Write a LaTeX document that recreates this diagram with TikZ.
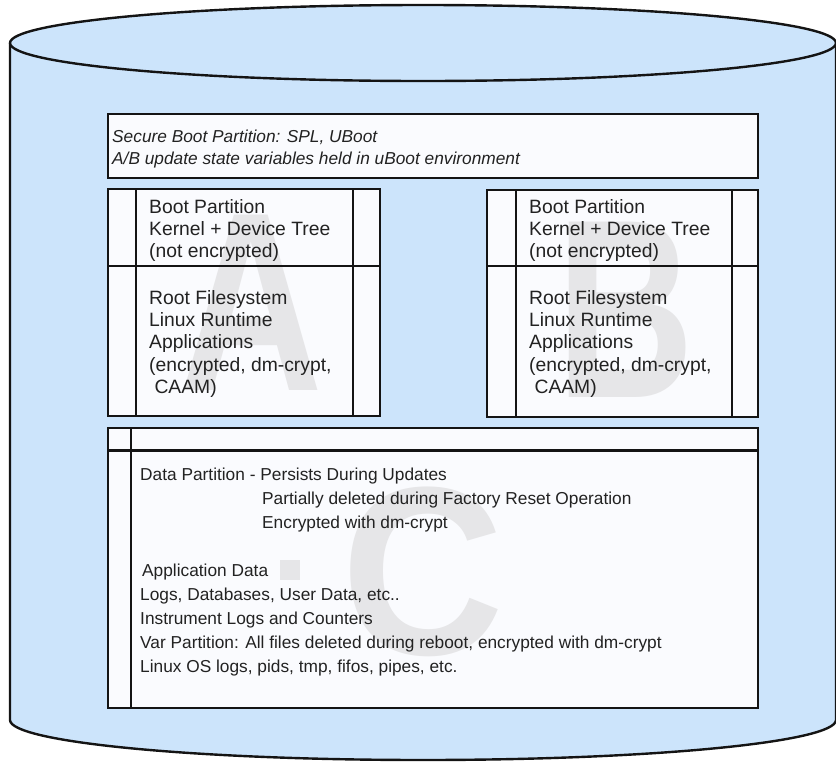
\documentclass[tikz,border=0pt]{standalone}
\usepackage{graphicx}
\usepackage{fontspec}
\setmainfont{Liberation Sans}

\definecolor{disk}{RGB}{204,228,251}
\definecolor{paper}{RGB}{250,251,254}
\definecolor{edge}{RGB}{20,20,20}
\definecolor{ink}{RGB}{34,34,34}
\definecolor{ghost}{RGB}{230,230,232}

\begin{document}
\begin{tikzpicture}[x=1pt,y=-1pt,
  diskline/.style={line width=2.4pt, draw=edge},
  boxline/.style={line width=2.6pt, draw=edge},
  boxfill/.style={fill=paper},
  body/.style={font=\fontsize{19.3}{23}\selectfont, text=ink, anchor=base west, inner sep=0pt},
  note/.style={font=\fontsize{17.3}{21}\selectfont, text=ink, anchor=base west, inner sep=0pt},
  wmark/.style={font=\fontsize{255}{255}\selectfont\bfseries, text=ghost, anchor=base, inner sep=0pt}
]
\useasboundingbox (0,0) rectangle (836,761);

% storage cylinder
\path[fill=disk] (10,43) -- (10,720)
  arc[start angle=180, end angle=0, x radius=413, y radius=40] -- (836,43) -- cycle;
\draw[diskline] (10,43) -- (10,720)
  arc[start angle=180, end angle=0, x radius=413, y radius=40] -- (836,43);
\draw[diskline, fill=disk] (423,43) ellipse [x radius=413, y radius=38];

% partition backgrounds
\fill[boxfill] (108,114) rectangle (758,178);
\fill[boxfill] (108,189) rectangle (380,416);
\fill[boxfill] (487,190) rectangle (758,417);
\fill[boxfill] (108,428) rectangle (758,708);

% large slot letters
\node[wmark] (slotA) at (251,390) {\scalebox{0.78}[1]{A}};
\node[wmark] (slotB) at (626,397) {\scalebox{0.75}[1]{B}};
\node[wmark, font=\fontsize{240}{240}\selectfont\bfseries] (slotC) at (423,654) {\scalebox{0.94}[1]{C}};
\fill[ghost] (280,560) rectangle (300,580);

% partition outlines
\draw[boxline] (108,114) rectangle (758,178);
\draw[boxline] (108,189) rectangle (380,416);
\draw[boxline] (136,189) -- (136,416);
\draw[boxline] (353,189) -- (353,416);
\draw[boxline] (108,266) -- (380,266);
\draw[boxline] (487,190) rectangle (758,417);
\draw[boxline] (516,190) -- (516,417);
\draw[boxline] (732,190) -- (732,417);
\draw[boxline] (487,266) -- (758,266);
\draw[boxline] (108,428) rectangle (758,708);
\draw[boxline] (131,428) -- (131,708);
\draw[boxline, line width=3pt] (108,450) -- (758,450);

% secure boot partition
\node[note, font=\fontsize{17.3}{21}\selectfont\itshape] (sb1) at (112,142) {Secure Boot Partition: SPL, UBoot};
\node[note, font=\fontsize{17.3}{21}\selectfont\itshape] (sb2) at (112,164) {A/B update state variables held in uBoot environment};

% slot A
\foreach \t [count=\i] in {Boot Partition, Kernel + Device Tree, (not encrypted)}
  \node[body] (aboot\i) at (149,{213+22.4*(\i-1)}) {\t};
\foreach \t [count=\i] in {Root Filesystem, Linux Runtime, Applications, {(encrypted, dm-crypt,}, {\ CAAM)}}
  \node[body] (aroot\i) at (149,{304+22.4*(\i-1)}) {\t};

% slot B
\foreach \t [count=\i] in {Boot Partition, Kernel + Device Tree, (not encrypted)}
  \node[body] (bboot\i) at (529,{213+22.4*(\i-1)}) {\t};
\foreach \t [count=\i] in {Root Filesystem, Linux Runtime, Applications, {(encrypted, dm-crypt,}, {\ CAAM)}}
  \node[body] (broot\i) at (529,{304+22.4*(\i-1)}) {\t};

% data partition
\node[note] (d1) at (140,480.5) {Data Partition - Persists During Updates};
\node[note] (d2) at (262,504.5) {Partially deleted during Factory Reset Operation};
\node[note] (d3) at (262,528.5) {Encrypted with dm-crypt};
\node[note] (d4) at (142,576) {Application Data};
\node[note] (d5) at (140,600) {Logs, Databases, User Data, etc..};
\node[note] (d6) at (140,624) {Instrument Logs and Counters};
\node[note] (d7) at (140,648) {Var Partition: All files deleted during reboot, encrypted with dm-crypt};
\node[note] (d8) at (140,672) {Linux OS logs, pids, tmp, fifos, pipes, etc.};
\end{tikzpicture}
\end{document}
